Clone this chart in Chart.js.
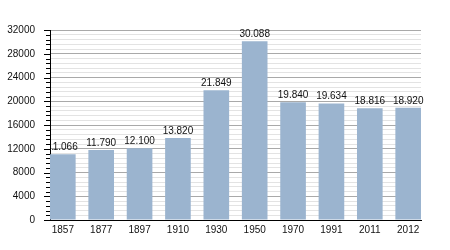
<!DOCTYPE html>
<html>
<head>
<meta charset="utf-8">
<script src="https://cdn.jsdelivr.net/npm/chart.js@4/dist/chart.umd.min.js"></script>
<style>
html,body{margin:0;padding:0;background:#fff;}
#wrap{width:450px;height:250px;position:relative;}
</style>
</head>
<body>
<div id="wrap"><canvas id="c" width="450" height="250"></canvas></div>
<script>
const years = ['1857','1877','1897','1910','1930','1950','1970','1991','2011','2012'];
const population = [11066, 11790, 12100, 13820, 21849, 30088, 19840, 19634, 18816, 18920];
const yMax = 32000;
const majorStep = 4000;
const minorStep = 800;

function fmt(v){
  return String(v).replace(/\B(?=(\d{3})+(?!\d))/g, '.');
}

const BAR_FRAC = 0.668;

const labelPlugin = {
  id: 'valueLabels',
  afterDatasetsDraw(chart){
    const ctx = chart.ctx;
    const meta = chart.getDatasetMeta(0);
    const a = chart.chartArea;
    ctx.save();
    ctx.beginPath();
    ctx.rect(a.left + 2, 0, a.right - a.left + 40, chart.height);
    ctx.clip();
    ctx.font = '10px "Liberation Sans", Arial, sans-serif';
    ctx.fillStyle = '#111';
    ctx.textAlign = 'center';
    ctx.textBaseline = 'alphabetic';
    meta.data.forEach((el, i) => {
      ctx.fillText(fmt(population[i]), el.x, el.y - 4);
    });
    ctx.restore();
  }
};

const tickPlugin = {
  id: 'yTicks',
  afterDraw(chart){
    const ctx = chart.ctx;
    const ys = chart.scales.y;
    const x0 = chart.chartArea.left;
    ctx.save();
    ctx.strokeStyle = '#000';
    ctx.lineWidth = 1;
    for (let v = 0; v <= yMax; v += minorStep){
      const y = Math.round(ys.getPixelForValue(v)) + 0.5;
      const len = (v % majorStep === 0) ? 6 : 4;
      ctx.beginPath();
      ctx.moveTo(x0 - len, y);
      ctx.lineTo(x0, y);
      ctx.stroke();
    }
    ctx.restore();
  }
};

new Chart(document.getElementById('c'), {
  type: 'bar',
  data: {
    datasets: [{
      data: population.map((v, i) => ({x: i, y: v})),
      backgroundColor: '#9bb4cf',
      borderWidth: 0,
      barPercentage: BAR_FRAC,
      categoryPercentage: 1
    }]
  },
  options: {
    responsive: false,
    animation: false,
    devicePixelRatio: 1,
    layout: {padding: {top: 30, right: 29, left: 0, bottom: 0}},
    plugins: {legend: {display: false}, tooltip: {enabled: false}},
    scales: {
      x: {
        type: 'linear',
        offset: false,
        min: -BAR_FRAC / 2,
        max: years.length - 1 + BAR_FRAC / 2,
        afterBuildTicks(scale){
          scale.ticks = years.map((_, i) => ({value: i}));
        },
        afterFit(scale){ scale.height = 30; },
        grid: {display: false, drawTicks: false, offset: false},
        border: {display: true, color: '#000', width: 1},
        ticks: {
          autoSkip: false,
          maxRotation: 0,
          padding: 4,
          color: '#111',
          font: {family: '"Liberation Sans", Arial, sans-serif', size: 10},
          callback: (v) => years[Math.round(v)] ?? ''
        }
      },
      y: {
        min: 0,
        max: yMax,
        afterFit(scale){ scale.width = 50; },
        grid: {
          drawTicks: false,
          color: (c) => (c.tick && c.tick.value % majorStep === 0) ? '#a9a9a9' : '#e3e3e3',
          lineWidth: 1
        },
        border: {display: true, color: '#000', width: 1},
        ticks: {
          stepSize: minorStep,
          autoSkip: false,
          padding: 15,
          color: '#111',
          font: {family: '"Liberation Sans", Arial, sans-serif', size: 10},
          callback: (v) => (v % majorStep === 0) ? String(v) : ''
        }
      }
    }
  },
  plugins: [labelPlugin, tickPlugin]
});
</script>
</body>
</html>
